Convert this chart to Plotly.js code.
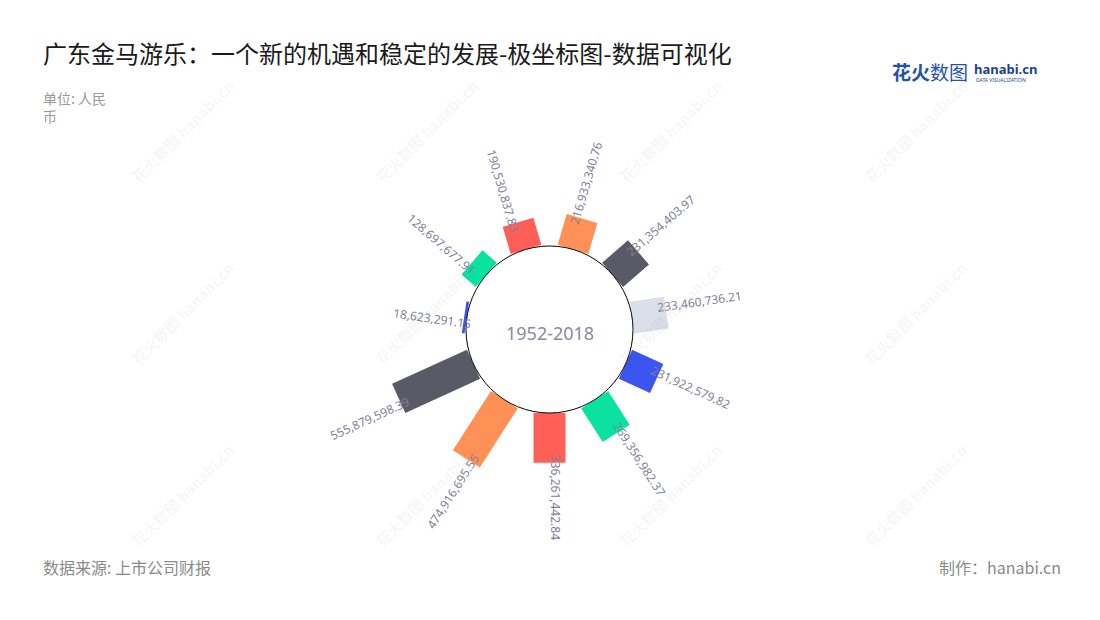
<!DOCTYPE html>
<html>
<head>
<meta charset="utf-8">
<script src="https://cdn.plot.ly/plotly-3.0.1.min.js"></script>
<style>html,body{margin:0;padding:0;background:#fff;}#chart{width:1100px;height:620px;}</style>
</head>
<body>
<div id="chart"></div>
<script>
// ---- data ----
const categories = ['2008','2009','2010','2011','2012','2013','2014','2015','2016','2017','2018'];
const values = [18623291.15, 128697677.91, 190530837.83, 216933340.76, 231354403.97, 233460736.21,
                231922579.82, 269356982.37, 336261442.84, 474916695.55, 555879598.39];
const centerLabel = '1952-2018';
const titleText = '广东金马游乐：一个新的机遇和稳定的发展-极坐标图-数据可视化';
const unitText = '单位: 人民<br>币';
const sourceText = '数据来源: 上市公司财报';
const makerText = '制作：hanabi.cn';

// ---- styles / geometry ----
const palette = ['#3b55ee', '#0ce2a0', '#ff5f57', '#ff9157', '#5a5a66', '#dbdfe9'];
const W = 1100, H = 620;
const CX = 549.5, CY = 329.5;       // centre of the polar plot (px)
const HOLE = 83.5;                   // inner radius (px)
const RMAX = 6e8;                    // radial axis max
const PX_PER_UNIT = 0.148e-6;        // px per value unit
const R = HOLE + RMAX * PX_PER_UNIT; // outer radius (px)
const N = categories.length;
const THETA0 = 278.1818;             // first category, degrees clockwise from north
const BAR_W = 32;
const LABEL_FONT = 12, LABEL_COLOR = '#80809a';
const FONT = '"Noto Sans CJK SC", "Noto Sans", sans-serif';

function fmt(v) {
  return v.toLocaleString('en-US', {minimumFractionDigits: 2, maximumFractionDigits: 2});
}
const ctx = document.createElement('canvas').getContext('2d');
ctx.font = LABEL_FONT + 'px "Noto Sans"';
function tw(s) { return ctx.measureText(s).width; }

const traces = [];
values.forEach((v, k) => {
  traces.push({
    type: 'scatterpolar', subplot: 'polar', mode: 'lines',
    r: [0, v], theta: [categories[k], categories[k]],
    line: {color: palette[k % palette.length], width: BAR_W},
    hoverinfo: 'text', text: fmt(v), showlegend: false
  });
});
// inner circle subplot
traces.push({type: 'scatterpolar', subplot: 'polar2', r: [0], theta: [0], mode: 'markers',
  marker: {opacity: 0}, hoverinfo: 'skip', showlegend: false});

const annotations = [];

// watermarks (drawn first so they sit underneath)
const wmX = [182, 426, 670, 915], wmY = [131, 313, 495];
wmX.forEach(x => wmY.forEach(y => {
  annotations.push({xref: 'paper', yref: 'paper', x: x / W, y: 1 - y / H, xanchor: 'center', yanchor: 'middle',
    showarrow: false, textangle: -45, text: '<b>花火数图 hanabi.cn</b>',
    font: {family: FONT, size: 15, color: 'rgba(0,0,0,0.055)'}});
}));

// value labels along the radial direction
values.forEach((v, k) => {
  let th = THETA0 + k * 360 / N;
  th = ((th % 360) + 360) % 360;
  const rad = th * Math.PI / 180;
  const s = fmt(v);
  const w = tw(s);
  const rEnd = HOLE + v * PX_PER_UNIT;
  const rc = rEnd - 8 + w / 2;
  const d = 6;
  const ux = Math.sin(rad), uy = -Math.cos(rad);
  const tx = Math.cos(rad), ty = Math.sin(rad);
  const px = CX + rc * ux - d * tx;
  const py = CY + rc * uy - d * ty;
  const ang = (th <= 180.001) ? th - 90 : th - 270;
  annotations.push({
    xref: 'paper', yref: 'paper', x: px / W, y: 1 - py / H,
    xanchor: 'center', yanchor: 'middle', showarrow: false,
    text: s, textangle: ang,
    font: {family: '"Noto Sans", sans-serif', size: LABEL_FONT, color: LABEL_COLOR}
  });
});

// centre label
annotations.push({xref: 'paper', yref: 'paper', x: CX / W, y: 1 - (CY + 3) / H,
  xanchor: 'center', yanchor: 'middle', showarrow: false, text: centerLabel,
  font: {family: '"Noto Sans", sans-serif', size: 18, color: '#8a8aa2'}});

// unit, source, maker
annotations.push({xref: 'paper', yref: 'paper', x: 41 / W, y: 1 - 86 / H, xanchor: 'left', yanchor: 'top',
  align: 'left', showarrow: false, text: unitText, font: {family: FONT, size: 14, color: '#9a9a9a'}});
annotations.push({xref: 'paper', yref: 'paper', x: 41 / W, y: 1 - 567 / H, xanchor: 'left', yanchor: 'middle',
  showarrow: false, text: sourceText, font: {family: FONT, size: 16, color: '#8a8a8a'}});
annotations.push({xref: 'paper', yref: 'paper', x: 1063 / W, y: 1 - 567 / H, xanchor: 'right', yanchor: 'middle',
  showarrow: false, text: makerText, font: {family: FONT, size: 16, color: '#8a8a8a'}});

// logo
annotations.push({xref: 'paper', yref: 'paper', x: 890 / W, y: 1 - 72 / H, xanchor: 'left', yanchor: 'middle',
  showarrow: false, text: '<b>花火</b>数图', font: {family: FONT, size: 19, color: '#2452a8'}});
annotations.push({xref: 'paper', yref: 'paper', x: 972 / W, y: 1 - 69 / H, xanchor: 'left', yanchor: 'middle',
  showarrow: false, text: '<b>hanabi.cn</b>', font: {family: '"Noto Sans", sans-serif', size: 13, color: '#1d3f95'}});
annotations.push({xref: 'paper', yref: 'paper', x: 974 / W, y: 1 - 80 / H, xanchor: 'left', yanchor: 'middle',
  showarrow: false, text: 'DATA VISUALIZATION', font: {family: '"Noto Sans", sans-serif', size: 5, color: '#1d3f95'}});

const layout = {
  width: W, height: H,
  margin: {l: 0, r: 0, t: 0, b: 0},
  paper_bgcolor: '#fff', plot_bgcolor: '#fff',
  font: {family: FONT},
  title: {text: titleText, x: 43 / W, xanchor: 'left', y: 1 - 55 / H, yanchor: 'middle',
          font: {family: FONT, size: 24, color: '#1a1a1a'}},
  showlegend: false,
  polar: {
    domain: {x: [(CX - R) / W, (CX + R) / W], y: [(H - CY - R) / H, (H - CY + R) / H]},
    hole: HOLE / R,
    bgcolor: 'rgba(0,0,0,0)',
    radialaxis: {range: [0, RMAX], visible: false, showgrid: false, showline: false, showticklabels: false, ticks: ''},
    angularaxis: {type: 'category', categoryorder: 'array', categoryarray: categories,
      direction: 'clockwise', rotation: 90 - THETA0 + 360,
      showline: false, showgrid: false, showticklabels: false, ticks: ''}
  },
  polar2: {
    domain: {x: [(CX - HOLE) / W, (CX + HOLE) / W], y: [(H - CY - HOLE) / H, (H - CY + HOLE) / H]},
    bgcolor: 'rgba(0,0,0,0)',
    radialaxis: {visible: false, showgrid: false, showline: false, showticklabels: false, ticks: ''},
    angularaxis: {showline: true, linecolor: '#000', linewidth: 1, showgrid: false, showticklabels: false, ticks: ''}
  },
  annotations: annotations
};

Plotly.newPlot('chart', traces, layout, {displayModeBar: false, staticPlot: true});
</script>
</body>
</html>
